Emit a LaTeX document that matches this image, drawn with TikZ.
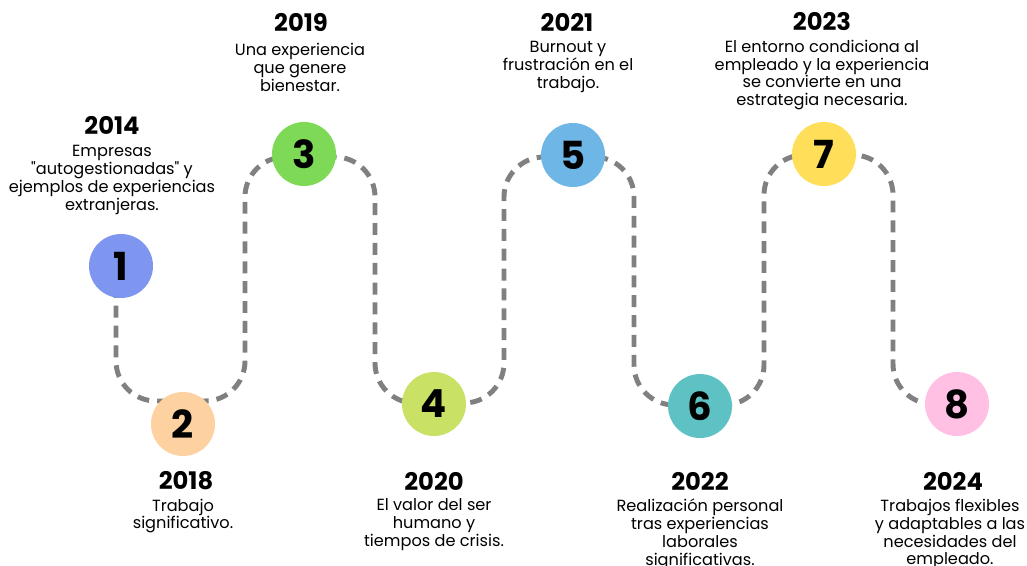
\documentclass[tikz,border=0pt]{standalone}
\usepackage{fontspec}
\setmainfont{Poppins}[Ligatures=TeXOff]
\usetikzlibrary{positioning}
\usetikzlibrary{backgrounds}
\definecolor{c1}{RGB}{127,150,240}
\definecolor{c2}{RGB}{254,210,160}
\definecolor{c3}{RGB}{126,217,87}
\definecolor{c4}{RGB}{201,226,101}
\definecolor{c5}{RGB}{110,182,230}
\definecolor{c6}{RGB}{94,194,196}
\definecolor{c7}{RGB}{255,222,89}
\definecolor{c8}{RGB}{255,192,227}
\definecolor{trailgray}{RGB}{128,128,128}

\begin{document}
\begin{tikzpicture}[x=0.02cm, y=-0.02cm,
    milestone/.style={circle, minimum size=1.28cm, inner sep=0pt, font=\fontsize{22}{22}\selectfont\bfseries},
    year/.style={font=\fontsize{13.8}{14}\selectfont\bfseries},
    note/.style={align=center, inner sep=0pt, font=\fontsize{9.2}{10.2}\selectfont},
    trail/.style={trailgray, line width=2.8pt, dash pattern=on 6.8pt off 4.5pt, rounded corners=0.8cm}]
    \useasboundingbox (0,0) rectangle (1027,565);

    % circles along the path
    \node[milestone, fill=c1] (n1) at (121,266) {1};
    \node[milestone, fill=c2] (n2) at (183,424) {2};
    \node[milestone, fill=c3] (n3) at (304,154) {3};
    \node[milestone, fill=c4] (n4) at (434,404) {4};
    \node[milestone, fill=c5] (n5) at (573,155) {5};
    \node[milestone, fill=c6] (n6) at (700,406) {6};
    \node[milestone, fill=c7] (n7) at (824,154) {7};
    \node[milestone, fill=c8] (n8) at (957,404) {8};

    % dashed road behind the circles
    \begin{scope}[on background layer]
    \draw[trail] (n1) ++(-5,0) -- (116,401) -- (245,401) -- (245,157)
        -- (375,157) -- (375,403) -- (504,403) -- (504,157)
        -- (634,157) -- (634,405) -- (764,405) -- (764,155)
        -- (893,155) -- (893,404) -- (n8);
    \end{scope}

    % years and texts
    \node[year] (y2014) at (112,125) {2014};
    \node[note] (d2014) at (112,180) {Empresas\\"autogestionadas" y\\ejemplos de experiencias\\extranjeras.};

    \node[year] (y2019) at (301,22) {2019};
    \node[note] (d2019) at (300,67) {Una experiencia\\que genere\\bienestar.};

    \node[year] (y2021) at (567,22) {2021};
    \node[note] (d2021) at (568,67) {Burnout y\\frustración en el\\trabajo.};

    \node[year] (y2023) at (822,22) {2023};
    \node[note] (d2023) at (822,75) {El entorno condiciona al\\empleado y la experiencia\\se convierte en una\\estrategia necesaria.};

    \node[year] (y2018) at (186,481) {2018};
    \node[note] (d2018) at (183,516) {Trabajo\\significativo.};

    \node[year] (y2020) at (434,481) {2020};
    \node[note] (d2020) at (434,525) {El valor del ser\\humano y\\tiempos de crisis.};

    \node[year] (y2022) at (700,481) {2022};
    \node[note] (d2022) at (700,534) {Realización personal\\tras experiencias\\laborales\\significativas.};

    \node[year] (y2024) at (953,481) {2024};
    \node[note] (d2024) at (950,534) {Trabajos flexibles\\y adaptables a las\\necesidades del\\empleado.};
\end{tikzpicture}
\end{document}
